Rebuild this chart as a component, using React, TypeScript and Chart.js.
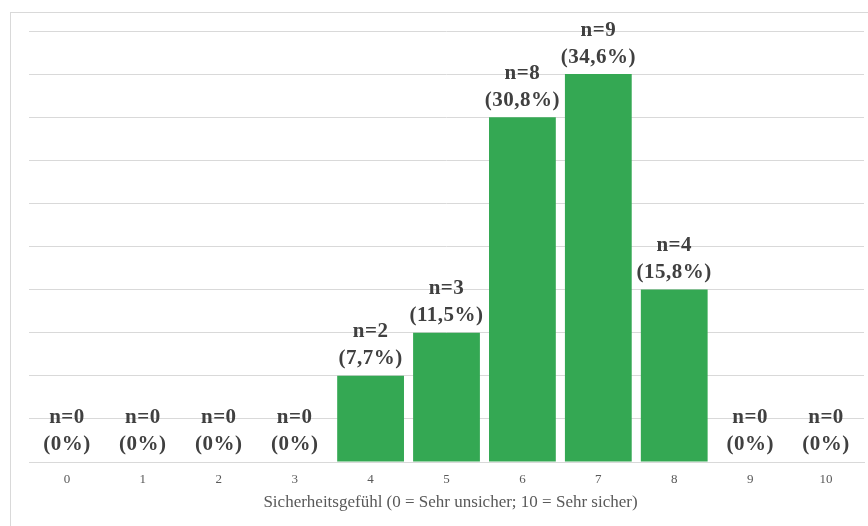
import React, { useEffect, useRef } from "react";
import { Chart, registerables } from "chart.js";

Chart.register(...registerables);

const categories = ["0", "1", "2", "3", "4", "5", "6", "7", "8", "9", "10"];
const counts = [0, 0, 0, 0, 2, 3, 8, 9, 4, 0, 0];
const percentLabels = ["0%", "0%", "0%", "0%", "7,7%", "11,5%", "30,8%", "34,6%", "15,8%", "0%", "0%"];
const axisTitle = "Sicherheitsgefühl (0 = Sehr unsicher; 10 = Sehr sicher)";

const frame = {
  id: "frame",
  beforeDraw(chart: any) {
    const ctx = chart.ctx;
    ctx.save();
    ctx.strokeStyle = "#d9d9d9";
    ctx.lineWidth = 1;
    ctx.strokeRect(10.5, 12.5, 1000, 1000);
    ctx.restore();
  },
};

const axisText = {
  id: "axisText",
  afterDraw(chart: any) {
    const ctx = chart.ctx;
    const xs = chart.scales.x;
    const area = chart.chartArea;
    ctx.save();
    ctx.fillStyle = "#595959";
    ctx.textAlign = "center";
    ctx.textBaseline = "middle";
    ctx.font = "13px 'Liberation Serif'";
    categories.forEach((c, i) => {
      ctx.fillText(c, xs.getPixelForValue(i), area.bottom + 18);
    });
    ctx.font = "17px 'Liberation Serif'";
    ctx.fillText(axisTitle, (area.left + area.right) / 2 + 4, area.bottom + 41);
    ctx.restore();
  },
};

const labelsPlugin = {
  id: "barLabels",
  afterDatasetsDraw(chart: any) {
    const ctx = chart.ctx;
    const meta = chart.getDatasetMeta(0);
    ctx.save();
    ctx.font = "bold 21px 'Liberation Serif'";
    ctx.fillStyle = "#404040";
    ctx.textAlign = "center";
    ctx.textBaseline = "middle";
    try { (ctx as any).letterSpacing = "0.5px"; } catch (e) {}
    meta.data.forEach((bar: any, i: number) => {
      const x = bar.x;
      const top = bar.y;
      ctx.fillText("n=" + counts[i], x, top - 44);
      ctx.fillText("(" + percentLabels[i] + ")", x, top - 17);
    });
    ctx.restore();
  },
};

export default function App() {
  const ref = useRef<HTMLCanvasElement>(null);
  useEffect(() => {
    const chart = new Chart(ref.current!, {
      type: "bar",
      data: {
        labels: categories,
        datasets: [
          {
            data: counts,
            backgroundColor: "#34a853",
            barPercentage: 0.88,
            categoryPercentage: 1,
          },
        ],
      },
      options: {
        animation: false,
        responsive: false,
        devicePixelRatio: 1,
        layout: { padding: { left: 29, right: 4, top: 31, bottom: 64 } },
        plugins: { legend: { display: false }, tooltip: { enabled: false } },
        scales: {
          x: {
            afterFit(scale: any) { scale.height = 0; },
            grid: { display: false },
            border: { display: true, color: "#d9d9d9" },
            ticks: { display: false },
          },
          y: {
            min: 0,
            max: 10,
            afterFit(scale: any) { scale.width = 0; },
            ticks: { display: false, stepSize: 1 },
            border: { display: false },
            grid: { color: "#d9d9d9", drawTicks: false },
          },
        },
      },
      plugins: [frame, axisText, labelsPlugin],
    });
    return () => chart.destroy();
  }, []);
  return (
    <div style={{ position: "fixed", left: 0, top: 0, width: 868, height: 526, background: "#fff" }}>
      <canvas ref={ref} width={868} height={526} style={{ display: "block" }} />
    </div>
  );
}
